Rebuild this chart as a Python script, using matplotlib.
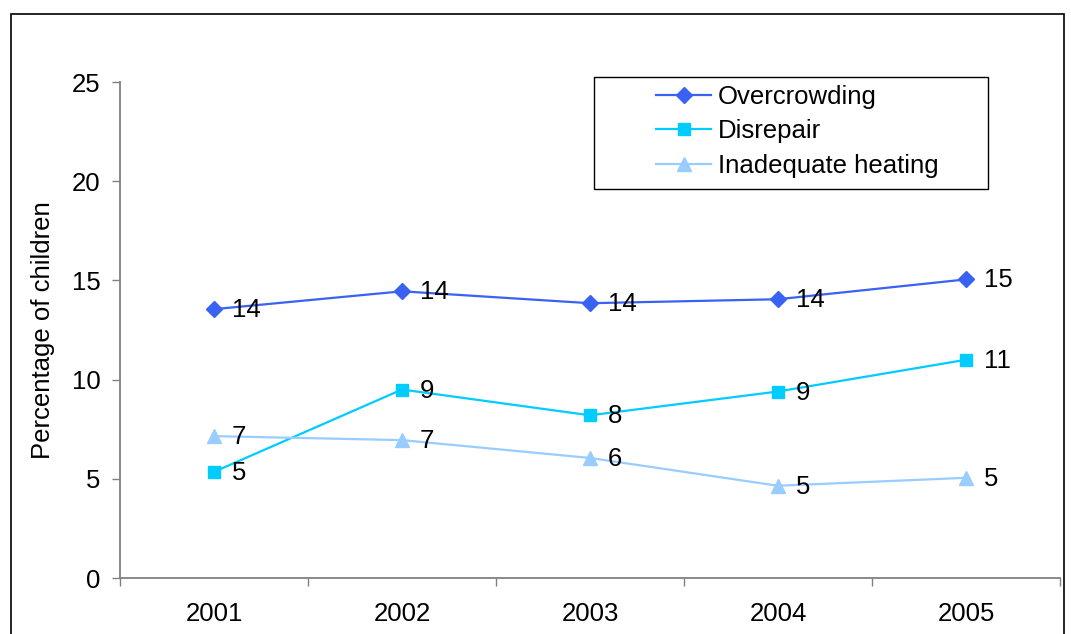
import matplotlib
matplotlib.use("Agg")
import matplotlib.pyplot as plt
from matplotlib.patches import Rectangle

plt.rcParams['font.family'] = ['Liberation Sans', 'DejaVu Sans']

years = ["2001", "2002", "2003", "2004", "2005"]
overcrowding = [13.55, 14.45, 13.85, 14.05, 15.05]
disrepair = [5.35, 9.5, 8.2, 9.4, 11.0]
heating = [7.15, 6.95, 6.05, 4.65, 5.05]
over_labels = ["14", "14", "14", "14", "15"]
dis_labels = ["5", "9", "8", "9", "11"]
heat_labels = ["7", "7", "6", "5", "5"]
yticks = [0, 5, 10, 15, 20, 25]

FS = 18.5
W, H = 1071, 634
fig = plt.figure(figsize=(W / 100, H / 100), dpi=100)
ax = fig.add_axes([120 / W, 56 / H, 940 / W, 496 / H])

# outer frame
fig.patches.append(Rectangle((11 / W, -0.05), 1053 / W, (H - 14) / H + 0.05,
                             transform=fig.transFigure, fill=False,
                             edgecolor='black', linewidth=1.2, clip_on=False))

x = list(range(len(years)))
c_over, c_dis, c_heat = '#3A62F2', '#00CCFF', '#99CCFF'
ax.plot(x, overcrowding, color=c_over, marker='D', markersize=8, linewidth=1.6, label='Overcrowding')
ax.plot(x, disrepair, color=c_dis, marker='s', markersize=9, linewidth=1.6, label='Disrepair')
ax.plot(x, heating, color=c_heat, marker='^', markersize=10, linewidth=1.6, label='Inadequate heating')

for vals, labs in [(overcrowding, over_labels), (disrepair, dis_labels), (heating, heat_labels)]:
    for xi, v, lab in zip(x, vals, labs):
        ax.annotate(lab, (xi, v), xytext=(18, -1), textcoords='offset pixels',
                    ha='left', va='center', fontsize=FS, color='black')

ax.set_xlim(-0.5, 4.5)
ax.set_ylim(0, 25)
ax.set_yticks(yticks)
ax.set_yticklabels([str(t) for t in yticks])
ax.set_xticks([i - 0.5 for i in range(len(years) + 1)])
ax.set_xticklabels([])
ax.set_xticks(x, minor=True)
ax.set_xticklabels(years, minor=True)
ax.tick_params(axis='x', which='major', direction='out', length=6, color='#808080', width=1)
ax.tick_params(axis='x', which='minor', length=0, pad=17, labelsize=FS)
ax.tick_params(axis='y', direction='out', length=6, color='#808080', width=1, pad=8, labelsize=FS)

for s in ['top', 'right']:
    ax.spines[s].set_visible(False)
for s in ['left', 'bottom']:
    ax.spines[s].set_color('#808080')
    ax.spines[s].set_linewidth(1.3)

ax.set_ylabel('Percentage of children', fontsize=FS)
ax.yaxis.set_label_coords((55 - 120) / 940, 0.5)

# legend frame
ax.add_patch(Rectangle(((594 - 120) / 940, (578 - 189) / 496), 394 / 940, 112 / 496,
                       transform=ax.transAxes, fill=False, edgecolor='black',
                       linewidth=1.0, clip_on=False, zorder=5))
leg = ax.legend(loc='upper left', bbox_to_anchor=((656 - 120) / 940, (578 - 85) / 496),
                fontsize=FS, frameon=False,
                borderpad=0, labelspacing=0.4, handlelength=2.15, handletextpad=0.25,
                borderaxespad=0)

fig.savefig('out.png', dpi=100)
